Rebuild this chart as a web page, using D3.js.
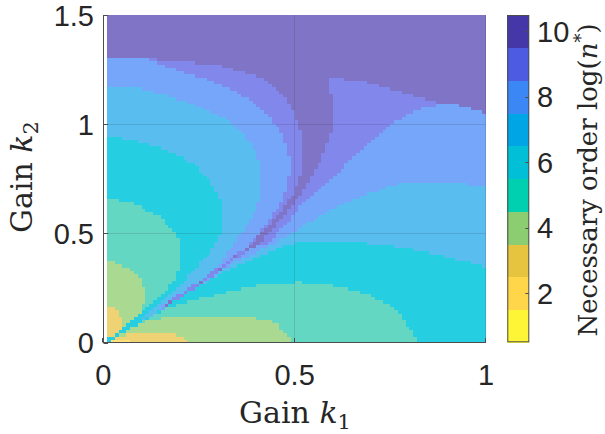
<!DOCTYPE html>
<html>
<head>
<meta charset="utf-8">
<script src="https://cdn.jsdelivr.net/npm/d3@7"></script>
<style>
  body { margin: 0; background: #fff; }
  svg { display: block; }
</style>
</head>
<body>
<div id="chart"></div>
<script>
// Colour levels (colorbar) and their washed-out look inside the plot
const levels = [1, 2, 3, 4, 5, 6, 7, 8, 9, 10]
const levelColors = ['#FDF535', '#FFD54A', '#E6C43F', '#8BCD70', '#00CFB0',
  '#00BFD6', '#00A5E6', '#3B87F5', '#4D5BE3', '#4537A8']
const plotColors = ['#FCF56E', '#FFE07A', '#EED273', '#AADA91', '#64D7C3',
  '#25CEE0', '#5ABDF0', '#76A6FA', '#8288EB', '#8074C6']

// Tick labels
const xTicks = [0, 0.5, 1]
const yTicks = [0, 0.5, 1, 1.5]
const cbTicks = [2, 4, 6, 8, 10]

// Ridge along the diagonal (k1, k2) and the level of the thin stripe on it
const ridgeLine = [[0, 0], [0.08, 0.085], [0.166, 0.178], [0.25, 0.272], [0.30, 0.335],
  [0.35, 0.40], [0.40, 0.455], [0.427, 0.516], [0.462, 0.577], [0.488, 0.638],
  [0.512, 0.699], [0.53, 0.76], [0.545, 0.821], [0.555, 0.9], [0.565, 1.0]]
const ridgeSteps = [[0, 6], [0.12, 7], [0.15, 8], [0.165, 10], [0.178, 9], [0.25, 10],
  [0.262, 9], [0.30, 10], [0.312, 9], [0.34, 10], [0.352, 9], [0.375, 10]]
const ridgeEnd = 0.41

// Level boundaries, upper-left family (region of level <= L)
const leftArc9 = [[0, 1.309], [0.113, 1.301], [0.183, 1.291], [0.253, 1.281], [0.305, 1.27],
  [0.357, 1.245], [0.383, 1.233], [0.418, 1.21], [0.453, 1.164], [0.479, 1.111],
  [0.496, 1.057], [0.51, 1.011], [0.521, 0.943], [0.524, 0.882], [0.523, 0.821],
  [0.514, 0.76], [0.501, 0.699], [0.479, 0.638], [0.453, 0.577], [0.418, 0.516], [0.392, 0.46]]
const leftArc8 = [[0, 1.309], [0.113, 1.30], [0.207, 1.24], [0.279, 1.202], [0.357, 1.141],
  [0.383, 1.111], [0.436, 1.034], [0.47, 0.943], [0.488, 0.836], [0.483, 0.73],
  [0.462, 0.638], [0.427, 0.546], [0.395, 0.475]]
const leftArc7 = [[0, 1.175], [0.079, 1.169], [0.166, 1.134], [0.253, 1.08], [0.314, 1.034],
  [0.357, 0.973], [0.392, 0.897], [0.41, 0.821], [0.414, 0.744], [0.41, 0.668],
  [0.392, 0.592], [0.366, 0.516], [0.34, 0.455], [0.31, 0.37]]
const leftArc6 = [[0, 0.958], [0.079, 0.928], [0.166, 0.882], [0.235, 0.821], [0.279, 0.744],
  [0.305, 0.653], [0.312, 0.577], [0.305, 0.5], [0.285, 0.43], [0.255, 0.37],
  [0.22, 0.3], [0.18, 0.23], [0.15, 0.18]]
const leftArc5 = [[0, 0.668], [0.079, 0.638], [0.148, 0.577], [0.183, 0.516], [0.201, 0.455],
  [0.201, 0.378], [0.192, 0.302], [0.165, 0.24], [0.13, 0.19], [0.1, 0.14], [0.07, 0.1], [0.045, 0.06]]
const leftArc4 = [[0, 0.386], [0.061, 0.348], [0.096, 0.302], [0.109, 0.241], [0.109, 0.195],
  [0.096, 0.134], [0.079, 0.104], [0.06, 0.075]]
const leftArc3 = [[0, 0.18], [0.035, 0.157], [0.048, 0.104], [0.048, 0.058], [0.035, 0.035], [0.022, 0.026]]
const leftArc2 = [[0, 0.05], [0.014, 0.045], [0.014, 0.018]]

// Level boundaries, lower-right family
const rightArc9 = [[1, 1.05], [0.95, 1.08], [0.906, 1.096], [0.871, 1.103], [0.775, 1.149],
  [0.68, 1.195], [0.62, 1.21], [0.584, 1.217], [0.597, 1.126], [0.601, 0.989],
  [0.592, 0.943], [0.579, 0.882], [0.566, 0.821], [0.545, 0.76], [0.523, 0.699],
  [0.496, 0.638], [0.47, 0.577], [0.436, 0.516], [0.409, 0.45]]
const rightArc8 = [[1, 1.05], [0.95, 1.08], [0.906, 1.096], [0.836, 1.08], [0.767, 1.019],
  [0.714, 0.943], [0.662, 0.867], [0.61, 0.775], [0.558, 0.699], [0.514, 0.622],
  [0.479, 0.546], [0.436, 0.47], [0.41, 0.44]]
const rightArc7 = [[1, 0.722], [0.862, 0.737], [0.776, 0.729], [0.688, 0.683], [0.601, 0.615],
  [0.532, 0.546], [0.479, 0.485], [0.427, 0.439], [0.37, 0.39], [0.32, 0.345], [0.28, 0.295]]
const rightArc6 = [[1, 0.348], [0.862, 0.409], [0.775, 0.439], [0.688, 0.458], [0.601, 0.467],
  [0.514, 0.462], [0.462, 0.439], [0.401, 0.394], [0.34, 0.348], [0.29, 0.3], [0.25, 0.262]]
const rightArc5 = [[0.827, 0], [0.81, 0.043], [0.775, 0.134], [0.74, 0.18], [0.688, 0.226],
  [0.601, 0.264], [0.514, 0.279], [0.427, 0.272], [0.34, 0.241], [0.253, 0.203],
  [0.166, 0.16], [0.105, 0.1]]
const rightArc4 = [[0.497, 0], [0.479, 0.043], [0.453, 0.088], [0.41, 0.111], [0.34, 0.127],
  [0.253, 0.127], [0.166, 0.119], [0.122, 0.104], [0.079, 0.081], [0.06, 0.062]]
const rightArc3 = [[0.222, 0], [0.209, 0.027], [0.166, 0.046], [0.105, 0.05], [0.07, 0.043], [0.03, 0.028]]
const rightArc2 = [[0.075, 0], [0.072, 0.012], [0.02, 0.016]]

// Layout
const width = 605
const height = 434
const plot = { left: 103.3, right: 486, top: 15, bottom: 342.7 }
const cbar = { left: 507.3, right: 529.3, top: 15, bottom: 342.3 }
const tickFont = '"Liberation Sans", Arial, sans-serif'
const labelFont = '"DejaVu Serif", serif'
const ink = '#262626'

const svg = d3.select('#chart')
  .append('svg')
  .attr('width', width)
  .attr('height', height)

const x = d3.scaleLinear().domain([0, 1]).range([plot.left, plot.right])
const y = d3.scaleLinear().domain([0, 1.5]).range([plot.bottom, plot.top])
const cy = d3.scaleLinear().domain([0.5, 10.5]).range([cbar.bottom, cbar.top])

// Build the level field from the boundaries
const ridgeY = d3.scaleLinear().domain(ridgeLine.map(p => p[0])).range(ridgeLine.map(p => p[1]))
const ridgeLevel = k1 => ridgeSteps[d3.bisector(d => d[0]).right(ridgeSteps, k1) - 1][1]

function lobePolygon(arc) {
  const end = arc[arc.length - 1]
  const back = ridgeLine.filter(p => p[0] < end[0]).reverse()
  const start = arc[0][0] >= 1 ? [[1.1, -0.1], [1.1, arc[0][1]]] : []
  return start.concat(arc, back)
}

const lobes = [
  [9, leftArc9], [9, rightArc9], [8, leftArc8], [8, rightArc8], [7, leftArc7], [7, rightArc7],
  [6, leftArc6], [6, rightArc6], [5, leftArc5], [5, rightArc5], [4, leftArc4], [4, rightArc4],
  [3, leftArc3], [3, rightArc3], [2, leftArc2], [2, rightArc2]
].map(([level, arc]) => ({ level, polygon: lobePolygon(arc) }))

function levelAt(k1, k2) {
  let lv = 10
  lobes.forEach(l => {
    if (l.level < lv && d3.polygonContains(l.polygon, [k1, k2])) lv = l.level
  })
  if (k1 < ridgeEnd && Math.abs(k2 - ridgeY(k1)) < 0.0095) lv = Math.max(lv, ridgeLevel(k1))
  return lv
}

// Sampling grid of the image
const dk1 = 0.01
const dk2 = 0.015
const k1Cells = d3.range(99).map(i => 0.01 + i * dk1)
const k2Cells = d3.range(100).map(j => j * dk2)
const cells = []
k1Cells.forEach(a => k2Cells.forEach(b => {
  cells.push({ k1: a, k2: b, level: levelAt(a + dk1 / 2, b + dk2 / 2) })
}))

// Image cells
svg.append('g')
  .attr('shape-rendering', 'crispEdges')
  .selectAll('rect')
  .data(cells)
  .enter().append('rect')
  .attr('x', d => x(d.k1))
  .attr('y', d => y(d.k2 + dk2))
  .attr('width', d => x(d.k1 + dk1) - x(d.k1) + 0.4)
  .attr('height', d => y(d.k2) - y(d.k2 + dk2) + 0.4)
  .attr('fill', d => plotColors[d.level - 1])

// Grid lines
const grid = svg.append('g')
  .attr('stroke', ink)
  .attr('stroke-opacity', 0.15)
  .attr('stroke-width', 1)
grid.selectAll('.gx')
  .data(xTicks.slice(1))
  .enter().append('line')
  .attr('x1', d => Math.round(x(d)) - 0.5).attr('x2', d => Math.round(x(d)) - 0.5)
  .attr('y1', plot.top).attr('y2', plot.bottom)
grid.selectAll('.gy')
  .data(yTicks.slice(1, -1))
  .enter().append('line')
  .attr('y1', d => Math.round(y(d)) + 0.5).attr('y2', d => Math.round(y(d)) + 0.5)
  .attr('x1', plot.left).attr('x2', plot.right)

// Axes
const axes = svg.append('g').attr('stroke', '#4d4d4d').attr('stroke-width', 1)
axes.append('line')
  .attr('x1', 103.5).attr('x2', 103.5).attr('y1', plot.top).attr('y2', 343)
axes.append('line')
  .attr('x1', 103).attr('x2', plot.right).attr('y1', 342.5).attr('y2', 342.5)
axes.selectAll('.ty')
  .data(yTicks)
  .enter().append('line')
  .attr('x1', 103.5).attr('x2', 108)
  .attr('y1', d => Math.round(y(d)) + 0.5).attr('y2', d => Math.round(y(d)) + 0.5)
axes.selectAll('.tx')
  .data(xTicks)
  .enter().append('line')
  .attr('x1', d => Math.round(x(d)) - 0.5).attr('x2', d => Math.round(x(d)) - 0.5)
  .attr('y1', 342.5).attr('y2', 338)

// Tick labels
svg.append('g')
  .selectAll('text')
  .data(xTicks)
  .enter().append('text')
  .attr('x', d => x(d))
  .attr('y', 385)
  .attr('text-anchor', 'middle')
  .attr('font-family', tickFont)
  .attr('font-size', 29)
  .attr('fill', ink)
  .text(d => d)

svg.append('g')
  .selectAll('text')
  .data(yTicks)
  .enter().append('text')
  .attr('x', 94)
  .attr('y', d => y(d) + 10.5)
  .attr('text-anchor', 'end')
  .attr('font-family', tickFont)
  .attr('font-size', 29)
  .attr('fill', ink)
  .text(d => d)

// Axis labels
const xLabel = svg.append('text')
  .attr('x', 295)
  .attr('y', 423)
  .attr('text-anchor', 'middle')
  .attr('font-family', labelFont)
  .attr('font-size', 30)
  .attr('fill', ink)
xLabel.append('tspan').text('Gain ')
xLabel.append('tspan').attr('font-style', 'italic').text('k')
xLabel.append('tspan').attr('font-size', 21).attr('dy', 6).text('1')

const yLabel = svg.append('text')
  .attr('transform', 'translate(32,177) rotate(-90)')
  .attr('text-anchor', 'middle')
  .attr('font-family', labelFont)
  .attr('font-size', 30)
  .attr('fill', ink)
yLabel.append('tspan').text('Gain ')
yLabel.append('tspan').attr('font-style', 'italic').text('k')
yLabel.append('tspan').attr('font-size', 21).attr('dy', 6).text('2')

// Colorbar
svg.append('g')
  .attr('shape-rendering', 'crispEdges')
  .selectAll('rect')
  .data(levels)
  .enter().append('rect')
  .attr('x', cbar.left)
  .attr('y', d => cy(d + 0.5))
  .attr('width', cbar.right - cbar.left)
  .attr('height', d => cy(d - 0.5) - cy(d + 0.5) + 0.4)
  .attr('fill', d => levelColors[d - 1])

svg.append('rect')
  .attr('x', cbar.left + 0.5)
  .attr('y', cbar.top + 0.5)
  .attr('width', cbar.right - cbar.left - 1)
  .attr('height', cbar.bottom - cbar.top - 1)
  .attr('fill', 'none')
  .attr('stroke', '#4d4d4d')

svg.append('g')
  .attr('stroke', '#4d4d4d')
  .selectAll('line')
  .data(cbTicks)
  .enter().append('line')
  .attr('x1', cbar.right - 0.5).attr('x2', cbar.right - 4)
  .attr('y1', d => Math.round(cy(d)) + 0.5).attr('y2', d => Math.round(cy(d)) + 0.5)

svg.append('g')
  .selectAll('text')
  .data(cbTicks)
  .enter().append('text')
  .attr('x', 537)
  .attr('y', d => cy(d) + 10.5)
  .attr('font-family', tickFont)
  .attr('font-size', 29)
  .attr('fill', ink)
  .text(d => d)

const cbLabel = svg.append('text')
  .attr('transform', 'translate(597,180) rotate(-90)')
  .attr('text-anchor', 'middle')
  .attr('font-family', labelFont)
  .attr('font-size', 26)
  .attr('fill', ink)
cbLabel.append('tspan').text('Necessary order log(')
cbLabel.append('tspan').attr('font-style', 'italic').text('n')
cbLabel.append('tspan').attr('font-size', 18).attr('dy', -10).text('*')
cbLabel.append('tspan').attr('dy', 10).text(')')
</script>
</body>
</html>
